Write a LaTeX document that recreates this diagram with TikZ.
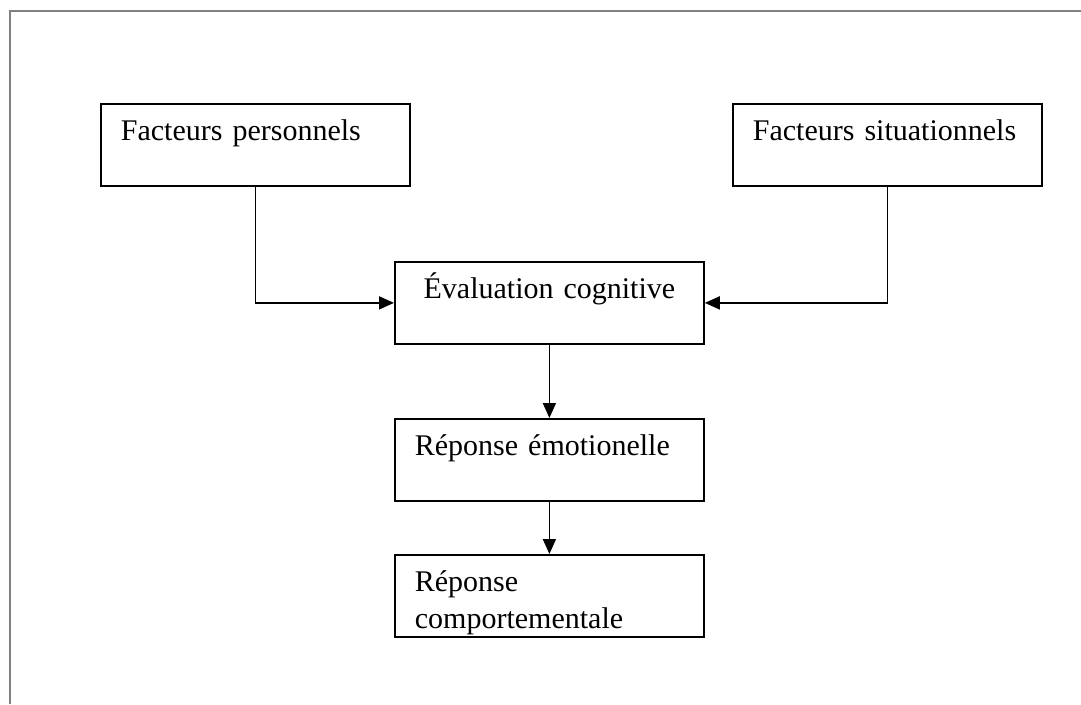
\documentclass[tikz,border=0pt]{standalone}
\usepackage{fontspec}
\setmainfont{Liberation Serif}
\usetikzlibrary{arrows.meta}
\begin{document}
\begin{tikzpicture}[x={(1pt,0)},y={(0,-1pt)},
  box/.style={draw,line width=1.8pt,anchor=north west,rectangle,
    minimum width=309pt,minimum height=82pt,inner xsep=20pt,inner ysep=0pt,
    text width=269pt,align=left,text height=37pt,text depth=45pt,
    font=\fontsize{30}{36.5}\selectfont},
  arr/.style={line width=1.8pt,-{Triangle[length=15pt,width=13pt]}},
  frame/.style={draw=gray,line width=2pt}]
\useasboundingbox (0,0) rectangle (1081,704);
\draw[frame] (10,704) -- (10,11) -- (1081,11);
\node[box] (FP) at (100,103) {Facteurs personnels};
\node[box] (FS) at (732,103) {Facteurs situationnels};
\node[box,align=center] (EC) at (394,261) {Évaluation cognitive};
\node[box] (RE) at (394,418) {Réponse émotionelle};
\node[box] (RC) at (394,554) {Réponse\\comportementale};
\draw[arr] (FP.south) |- (EC.west);
\draw[arr] (FS.south) |- (EC.east);
\draw[arr] (EC.south) -- (RE.north);
\draw[arr] (RE.south) -- (RC.north);
\end{tikzpicture}
\end{document}
